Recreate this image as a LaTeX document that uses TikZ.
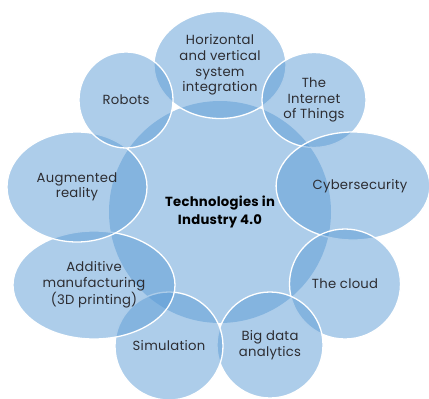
\documentclass[tikz,border=0pt]{standalone}
\usepackage{fontspec}
\setmainfont{Poppins}[LetterSpace=2]
\usetikzlibrary{shapes.geometric}
\definecolor{bubbleblue}{RGB}{91,155,213}
\definecolor{labelgray}{RGB}{45,45,50}
\tikzset{
  bubble/.style={ellipse, draw=white, line width=1.3pt, fill=bubbleblue, fill opacity=0.5, text opacity=1,
    inner sep=0pt, align=center, text=labelgray, font=\fontsize{13.2}{15.6}\selectfont}
}
\begin{document}
\begin{tikzpicture}[x=1pt,y=-1pt]
\useasboundingbox (0,0) rectangle (429,399);
\node[bubble, draw=none, minimum width=222pt, minimum height=222pt, text=black, font=\fontsize{13.2}{18}\selectfont\bfseries] (core) at (220,212) {Technologies in\\Industry 4.0};

\node[bubble, minimum width=132pt, minimum height=107pt] (horiz) at (220,65) {Horizontal\\and vertical\\system\\integration};
\node[bubble, minimum width=104pt, minimum height=95pt] (iot) at (314,100) {The\\Internet\\of Things};
\node[bubble, minimum width=152pt, minimum height=108pt] (cyber) at (353,186) {\hspace*{14pt}Cybersecurity};
\node[bubble, minimum width=111pt, minimum height=110pt] (cloud) at (345,284) {The cloud};
\node[bubble, minimum width=106pt, minimum height=106pt] (bigdata) at (270,345) {Big data\\analytics};
\node[bubble, minimum width=108pt, minimum height=108pt] (sim) at (169,346) {Simulation};
\node[bubble, minimum width=162pt, minimum height=108pt] (additive) at (94,285) {Additive\\manufacturing\\(3D printing)};
\node[bubble, minimum width=140pt, minimum height=110pt] (augmented) at (77,187) {Augmented\\reality};
\node[bubble, minimum width=94pt, minimum height=96pt] (robots) at (126,100) {Robots};
\end{tikzpicture}
\end{document}
